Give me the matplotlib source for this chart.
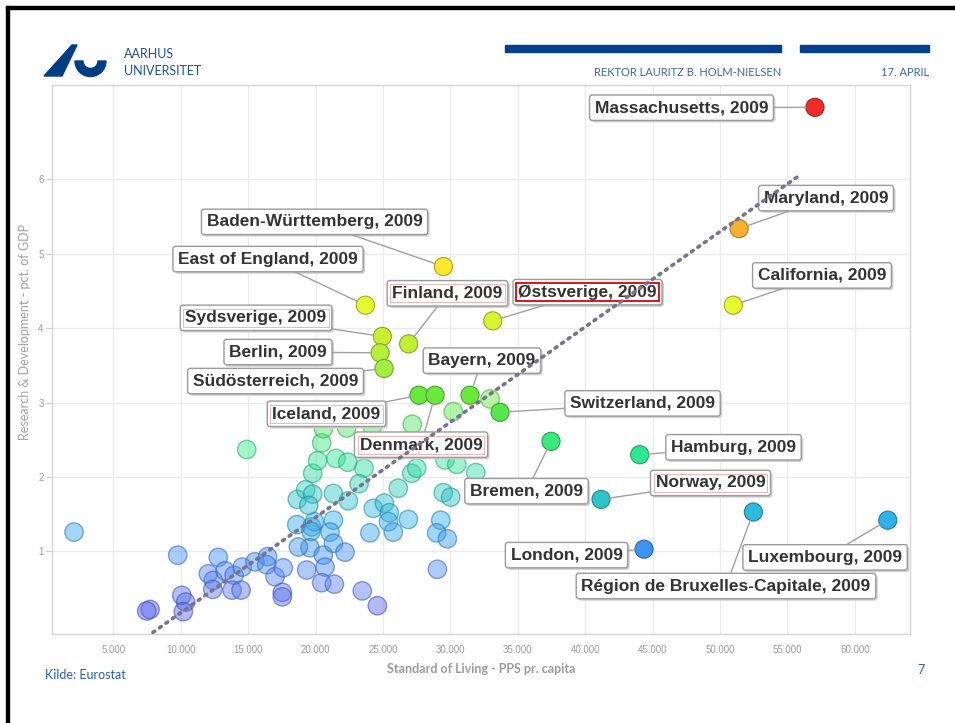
import numpy as np
import matplotlib
matplotlib.use("Agg")
import matplotlib.pyplot as plt
from matplotlib.colors import LinearSegmentedColormap, to_rgb
from matplotlib.patches import Polygon, Wedge, Rectangle, FancyBboxPatch
from matplotlib.text import Text
from matplotlib.ticker import FuncFormatter
from matplotlib.transforms import IdentityTransform

# regioner med navn
names = ["Massachusetts", "Maryland", "California", "Baden-Württemberg",
         "East of England", "Østsverige", "Finland", "Sydsverige", "Berlin",
         "Südösterreich", "Iceland", "Denmark", "Bayern", "Switzerland",
         "Bremen", "Hamburg", "Norway", "Région de Bruxelles-Capitale",
         "Luxembourg", "London"]
lab_x = [57040, 51410, 50980, 29480, 23690, 33140, 26900, 24950, 24780,
         25080, 27670, 28860, 31450, 33680, 37460, 44040, 41170, 52470,
         62440, 44360]
lab_y = [6.97, 5.34, 4.31, 4.83, 4.31, 4.10, 3.79, 3.89, 3.67, 3.46, 3.10,
         3.10, 3.10, 2.87, 2.48, 2.30, 1.70, 1.53, 1.42, 1.03]
year = "2009"

# øvrige regioner (uden navn)
other_x = [2080, 14890, 9770, 12780, 12040, 12410, 12370, 13280, 13950, 13800,
           14470, 14560, 15500, 16440, 16370, 16990, 17600, 17530, 17530, 10070,
           10360, 10190, 7720, 7470, 19340, 19580, 18720, 20570, 20700, 20450,
           21390, 18600, 19710, 19910, 19660, 21320, 21070, 21320, 18640, 19260,
           19780, 19490, 19780, 20150, 20450, 20570, 21320, 21510, 22380, 23590,
           23220, 22430, 24280, 25100, 25470, 25400, 26130, 26880, 25760, 24030,
           22180, 23460, 24580, 27130, 27500, 27170, 30210, 32940, 29600, 30470,
           31880, 29470, 30020, 29280, 28980, 29770, 29030, 22300, 24200]
other_y = [1.26, 2.37, 0.95, 0.92, 0.70, 0.61, 0.49, 0.74, 0.68, 0.48,
           0.48, 0.79, 0.86, 0.93, 0.82, 0.66, 0.78, 0.45, 0.39, 0.41,
           0.32, 0.19, 0.22, 0.20, 0.75, 1.05, 1.06, 0.95, 0.79, 0.58,
           0.56, 1.36, 1.33, 1.40, 1.27, 1.42, 1.26, 1.11, 1.70, 1.83,
           1.77, 1.62, 2.05, 2.22, 2.46, 2.65, 1.78, 2.25, 2.20, 2.12,
           1.91, 1.68, 1.58, 1.65, 1.52, 1.40, 1.85, 1.43, 1.26, 1.25,
           0.99, 0.47, 0.27, 2.05, 2.12, 2.71, 2.88, 3.05, 2.23, 2.17,
           2.06, 1.79, 1.73, 1.42, 1.25, 1.17, 0.76, 2.66, 2.68]

# trendlinje (start og slut)
trend_x = [7450, 55700]
trend_y = [-0.15, 6.03]

x_ticks = [5000, 10000, 15000, 20000, 25000, 30000, 35000, 40000, 45000,
           50000, 55000, 60000]
y_ticks = [1, 2, 3, 4, 5, 6]

# placering af etiketter (data-koordinater)
label_pos = {
    "Massachusetts": (47140, 6.965), "Maryland": (57860, 5.75),
    "California": (57560, 4.71), "Baden-Württemberg": (19920, 5.43),
    "East of England": (16470, 4.93), "Østsverige": (40170, 4.485),
    "Finland": (29780, 4.47), "Sydsverige": (15580, 4.14),
    "Berlin": (17210, 3.68), "Südösterreich": (17025, 3.29),
    "Iceland": (20810, 2.85), "Denmark": (27820, 2.435),
    "Bayern": (32340, 3.565), "Switzerland": (44250, 2.99),
    "Bremen": (35640, 1.81), "Hamburg": (51000, 2.40),
    "Norway": (49290, 1.92), "Région de Bruxelles-Capitale": (50440, 0.535),
    "Luxembourg": (57790, 0.92), "London": (38610, 0.95),
}
marked = {"Østsverige": ("#e00000", 1.3), "Finland": ("#f2b4b4", 0.7),
          "Sydsverige": ("#f2b4b4", 0.7), "Iceland": ("#f2b4b4", 0.7),
          "Denmark": ("#f2b4b4", 0.7), "Norway": ("#f2b4b4", 0.7)}

stops = [(0.2, "#5864ee"), (0.6, "#5a84f0"), (1.0, "#3e92f2"),
         (1.45, "#30b4e8"), (1.7, "#2ec4c8"), (2.3, "#2ee890"),
         (2.9, "#5ae848"), (3.1, "#6ae83c"), (3.5, "#a8f040"),
         (3.9, "#c8f030"), (4.3, "#e6f82e"), (4.85, "#fce830"),
         (5.35, "#f8b02e"), (7.0, "#f02a2a")]
vmin, vmax = stops[0][0], stops[-1][0]
cmap = LinearSegmentedColormap.from_list(
    "rd", [((v - vmin) / (vmax - vmin), c) for v, c in stops])


def col(v):
    return cmap((v - vmin) / (vmax - vmin))


fig = plt.figure(figsize=(9.55, 7.23), dpi=100)

# slide-elementer i pixel-koordinater
bg = fig.add_axes([0, 0, 1, 1])
bg.set_xlim(0, 955)
bg.set_ylim(723, 0)
bg.axis("off")
bg.add_patch(Rectangle((6, 6), 949, 3, color="black"))
bg.add_patch(Rectangle((6, 6), 3, 717, color="black"))
logo_blue = "#003d85"
bg.add_patch(Polygon([(44, 76), (62, 76), (77, 45), (72, 45)], color=logo_blue))
bg.add_patch(Wedge((90.5, 61), 15.5, 0, 180, width=8, color=logo_blue))
bg.text(124, 54, "AARHUS", fontsize=9, color="#1f4e9c", family="Lato",
        va="center", ha="left")
bg.text(124, 71, "UNIVERSITET", fontsize=9, color="#1f4e9c", family="Lato",
        va="center", ha="left")
bg.add_patch(Rectangle((505, 45), 276, 7, color="#00408f"))
bg.add_patch(Rectangle((800, 45), 129, 7, color="#00408f"))
bg.text(781, 73, "REKTOR LAURITZ B. HOLM-NIELSEN", fontsize=8,
        color="#3b67a8", family="Lato", ha="right", va="center")
bg.text(929, 73, "17. APRIL", fontsize=8, color="#3b67a8", family="Lato",
        ha="right", va="center")
bg.text(45, 675, "Kilde: Eurostat", fontsize=9, color="#2a5caa",
        family="Lato", ha="left", va="center")
bg.text(925, 670, "7", fontsize=9, color="#2a5caa", family="Lato",
        ha="right", va="center")

ax = fig.add_axes([52 / 955, 1 - 634 / 723, 858 / 955, 549 / 723])
ax.set_facecolor("none")
ax.set_xlim(445, 64090)
ax.set_ylim(-0.11, 7.27)

# øvrige punkter, halvgennemsigtige
oc = [col(v) for v in other_y]
oe = [tuple(np.array(to_rgb(c)) * 0.75) + (0.6,) for c in oc]
ofc = [to_rgb(c) + (0.45,) for c in oc]
ax.scatter(other_x, other_y, s=175, c=ofc, edgecolors=oe, linewidths=1,
           zorder=2)

# navngivne punkter
lc = [col(v) for v in lab_y]
le = [tuple(np.array(to_rgb(c)) * 0.7) for c in lc]
ax.scatter(lab_x, lab_y, s=170, c=lc, edgecolors=le, linewidths=0.8,
           zorder=4)

fs = 12.5
anns = {}
for n, x, y in zip(names, lab_x, lab_y):
    anns[n] = ax.annotate(
        f"{n}, {year}", (x, y), xytext=label_pos[n], textcoords="data",
        ha="center", va="center", fontsize=fs, fontweight="bold",
        family="Liberation Sans", color="#333333", zorder=5,
        bbox=dict(boxstyle="round,pad=0.3,rounding_size=0.15",
                  fc="white", ec="#9a9a9a", lw=1),
        arrowprops=dict(arrowstyle="-", color="#a0a0a0", lw=1,
                        shrinkA=0, shrinkB=6.5))

ax.plot(trend_x, trend_y, linestyle=(0, (0.6, 1.6)), color="#77738c", lw=2.6,
        dash_capstyle="round", zorder=7)

ax.set_xticks(x_ticks)
ax.set_yticks(y_ticks)
ax.xaxis.set_major_formatter(FuncFormatter(lambda v, p: f"{v:,.0f}".replace(",", ".")))
ax.tick_params(axis="x", length=0, pad=8, labelsize=7, labelcolor="#9a9a9a")
ax.tick_params(axis="y", length=4, width=0.8, color="#cccccc", pad=2,
               labelsize=7, labelcolor="#9a9a9a")
for lab in ax.get_xticklabels() + ax.get_yticklabels():
    lab.set_family("Liberation Sans")
ax.grid(True, color="#ebebeb", lw=1, zorder=0)
ax.set_axisbelow(True)
for s in ax.spines.values():
    s.set_color("#d5d5d5")
    s.set_linewidth(1)

ax.set_xlabel("Standard of Living - PPS pr. capita", fontsize=9,
              color="#9a9a9a", family="Lato", fontweight="bold", labelpad=6)
ax.set_ylabel("Research & Development - pct. of GDP", fontsize=9,
              color="#a0a0a0", family="Lato")
ax.yaxis.set_label_coords(-0.025, 0.55)

# skygger og markeringsrammer tegnes i pixel-koordinater efter layout
fig.canvas.draw()
renderer = fig.canvas.get_renderer()
ident = IdentityTransform()
for n, a in anns.items():
    bb = a.get_bbox_patch().get_window_extent(renderer)
    ax.add_patch(FancyBboxPatch((bb.x0 + 2, bb.y0 - 2), bb.width, bb.height,
                                boxstyle="round,pad=0,rounding_size=3",
                                fc="#d0d0d0", ec="none", transform=ident,
                                zorder=4.6, clip_on=False))
    if n in marked:
        mc, mw = marked[n]
        tb = Text.get_window_extent(a, renderer)
        ax.add_patch(Rectangle((tb.x0 - 2, tb.y0 - 1.5), tb.width + 4,
                               tb.height + 3, fc="none", ec=mc, lw=mw,
                               transform=ident, zorder=5.5, clip_on=False))

fig.savefig("out.png", dpi=100)
